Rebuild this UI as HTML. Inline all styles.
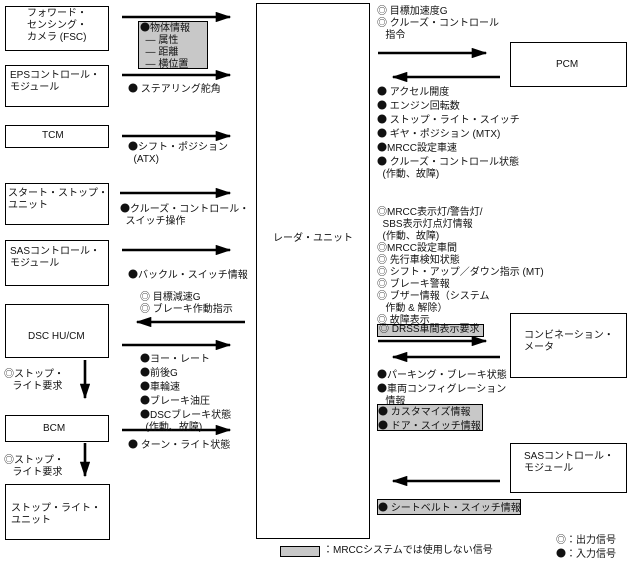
<!DOCTYPE html><html><head><meta charset="utf-8"><style>
body{margin:0;width:634px;height:561px;background:#fff;position:relative;overflow:hidden;font-family:"Liberation Sans","Noto Sans CJK JP",sans-serif;font-size:10px;color:#111}
.b{position:absolute;border:1px solid #000;box-sizing:border-box;background:#fff}
.t{position:absolute;white-space:nowrap;line-height:12px}
.g{position:absolute;background:#c8c8c8;border:1px solid #000;box-sizing:border-box}
i{font-style:normal;font-family:"Noto Sans CJK JP",sans-serif;font-size:10px}
</style></head><body>
<svg width="634" height="561" style="position:absolute;left:0;top:0">
<defs><marker id="a" markerWidth="6" markerHeight="4" refX="5.5" refY="2" orient="auto" markerUnits="strokeWidth"><path d="M0,0L6,2L0,4z"/></marker></defs>
<g stroke="#000" stroke-width="2.6" marker-end="url(#a)">
<line x1="122" y1="17" x2="230" y2="17"/>
<line x1="122" y1="75" x2="230" y2="75"/>
<line x1="122" y1="136" x2="230" y2="136"/>
<line x1="120" y1="193" x2="230" y2="193"/>
<line x1="122" y1="250" x2="230" y2="250"/>
<line x1="245" y1="322" x2="137" y2="322"/>
<line x1="122" y1="345" x2="230" y2="345"/>
<line x1="122" y1="430" x2="230" y2="430"/>
<line x1="378" y1="53" x2="486" y2="53"/>
<line x1="500" y1="77" x2="393" y2="77"/>
<line x1="378" y1="341" x2="486" y2="341"/>
<line x1="500" y1="357" x2="393" y2="357"/>
<line x1="500" y1="481" x2="393" y2="481"/>
<line x1="85" y1="360" x2="85" y2="398"/>
<line x1="85" y1="443" x2="85" y2="476"/>
</g></svg>
<div class="b" style="left:5px;top:6px;width:104px;height:45px"></div>
<div class="t" style="left:27px;top:8px">フォワード・<br>センシング・<br>カメラ (FSC)</div>
<div class="b" style="left:5px;top:65px;width:104px;height:42px"></div>
<div class="t" style="left:10px;top:70px">EPSコントロール・<br>モジュール</div>
<div class="b" style="left:5px;top:125px;width:104px;height:23px"></div>
<div class="t" style="left:42px;top:130px">TCM</div>
<div class="b" style="left:5px;top:183px;width:104px;height:42px"></div>
<div class="t" style="left:8px;top:188px">スタート・ストップ・<br>ユニット</div>
<div class="b" style="left:5px;top:240px;width:104px;height:46px"></div>
<div class="t" style="left:10px;top:246px">SASコントロール・<br>モジュール</div>
<div class="b" style="left:5px;top:304px;width:104px;height:54px"></div>
<div class="t" style="left:28px;top:331px">DSC HU/CM</div>
<div class="b" style="left:5px;top:415px;width:104px;height:27px"></div>
<div class="t" style="left:43px;top:423px">BCM</div>
<div class="b" style="left:5px;top:484px;width:105px;height:56px"></div>
<div class="t" style="left:11px;top:503px">ストップ・ライト・<br>ユニット</div>
<div class="b" style="left:256px;top:3px;width:114px;height:536px"></div>
<div class="t" style="left:273px;top:233px">レーダ・ユニット</div>
<div class="b" style="left:510px;top:42px;width:117px;height:45px"></div>
<div class="t" style="left:556px;top:59px">PCM</div>
<div class="b" style="left:510px;top:313px;width:117px;height:65px"></div>
<div class="t" style="left:524px;top:330px">コンビネーション・<br>メータ</div>
<div class="b" style="left:510px;top:443px;width:117px;height:50px"></div>
<div class="t" style="left:524px;top:451px">SASコントロール・<br>モジュール</div>
<div class="g" style="left:138px;top:21px;width:70px;height:48px"></div>
<div class="t" style="left:140px;top:21px"><i>●</i>物体情報<br>&nbsp;&nbsp;— 属性<br>&nbsp;&nbsp;— 距離<br>&nbsp;&nbsp;— 横位置</div>
<div class="t" style="left:128px;top:82px"><i>●</i> ステアリング舵角</div>
<div class="t" style="left:128px;top:140px"><i>●</i>シフト・ポジション<br>&nbsp;&nbsp;(ATX)</div>
<div class="t" style="left:120px;top:202px"><i>●</i>クルーズ・コントロール・<br>&nbsp;&nbsp;スイッチ操作</div>
<div class="t" style="left:128px;top:268px"><i>●</i>バックル・スイッチ情報</div>
<div class="t" style="left:140px;top:292px">◎ 目標減速G<br>◎ ブレーキ作動指示</div>
<div class="t" style="left:140px;top:352px"><i>●</i>ヨー・レート<br><i>●</i>前後G<br><i>●</i>車輪速<br><i>●</i>ブレーキ油圧<br><i>●</i>DSCブレーキ状態<br>&nbsp;&nbsp;(作動、故障)</div>
<div class="t" style="left:128px;top:438px"><i>●</i> ターン・ライト状態</div>
<div class="t" style="left:4px;top:369px">◎ストップ・<br>&nbsp;&nbsp;&nbsp;ライト要求</div>
<div class="t" style="left:4px;top:455px">◎ストップ・<br>&nbsp;&nbsp;&nbsp;ライト要求</div>
<div class="t" style="left:377px;top:6px">◎ 目標加速度G<br>◎ クルーズ・コントロール<br>&nbsp;&nbsp;&nbsp;指令</div>
<div class="t" style="left:377px;top:85px"><i>●</i> アクセル開度<br><i>●</i> エンジン回転数<br><i>●</i> ストップ・ライト・スイッチ<br><i>●</i> ギヤ・ポジション (MTX)<br><i>●</i>MRCC設定車速<br><i>●</i> クルーズ・コントロール状態<br>&nbsp;&nbsp;(作動、故障)</div>
<div class="t" style="left:377px;top:207px">◎MRCC表示灯/警告灯/<br>&nbsp;&nbsp;SBS表示灯点灯情報<br>&nbsp;&nbsp;(作動、故障)<br>◎MRCC設定車間<br>◎ 先行車検知状態<br>◎ シフト・アップ／ダウン指示 (MT)<br>◎ ブレーキ警報<br>◎ ブザー情報（システム<br>&nbsp;&nbsp;&nbsp;作動 &amp; 解除）<br>◎ 故障表示</div>
<div class="g" style="left:377px;top:324px;width:107px;height:13px"></div>
<div class="t" style="left:379px;top:324px">◎ DRSS車間表示要求</div>
<div class="t" style="left:377px;top:368px"><i>●</i>パーキング・ブレーキ状態<br><i>●</i>車両コンフィグレーション<br>&nbsp;&nbsp;&nbsp;情報</div>
<div class="g" style="left:377px;top:404px;width:106px;height:27px"></div>
<div class="t" style="left:378px;top:405px"><i>●</i> カスタマイズ情報<br><i>●</i> ドア・スイッチ情報</div>
<div class="g" style="left:377px;top:499px;width:144px;height:16px"></div>
<div class="t" style="left:378px;top:501px"><i>●</i> シートベルト・スイッチ情報</div>
<div class="g" style="left:280px;top:546px;width:40px;height:11px"></div>
<div class="t" style="left:323px;top:545px">：MRCCシステムでは使用しない信号</div>
<div class="t" style="left:556px;top:535px">◎：出力信号<br><i>●</i>：入力信号</div>
</body></html>
